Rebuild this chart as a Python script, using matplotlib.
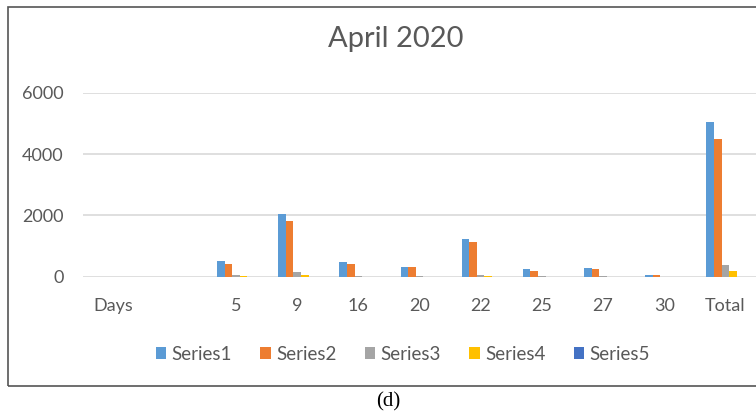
import matplotlib
matplotlib.use("Agg")
import matplotlib.pyplot as plt
import numpy as np
from matplotlib.patches import Rectangle

categories = ["Days", "", "5", "9", "16", "20", "22", "25", "27", "30", "Total"]
series_names = ["Series1", "Series2", "Series3", "Series4", "Series5"]
series1 = [0, 0, 520, 2030, 470, 320, 1230, 260, 300, 60, 5040]
series2 = [0, 0, 415, 1815, 425, 310, 1140, 195, 240, 60, 4475]
series3 = [0, 0, 50, 160, 20, 10, 50, 20, 20, 0, 380]
series4 = [0, 0, 10, 60, 0, 0, 10, 0, 0, 0, 185]
series5 = [0, 0, 0, 0, 0, 0, 0, 0, 0, 0, 0]
yticks = [0, 2000, 4000, 6000]
colors = ["#5B9BD5", "#ED7D31", "#A5A5A5", "#FFC000", "#4472C4"]

plt.rcParams['font.family'] = ['Lato', 'DejaVu Sans']
W, H = 756, 416
fig = plt.figure(figsize=(W / 100, H / 100), dpi=100)

left_px, right_px, top_px, bot_px = 83, 756, 92.7, 276.7
ax = fig.add_axes([left_px / W, 1 - bot_px / H, (right_px - left_px) / W, (bot_px - top_px) / H])

x = np.arange(len(categories))
w = 0.124
data = [series1, series2, series3, series4, series5]
for j, (vals, name, c) in enumerate(zip(data, series_names, colors)):
    ax.bar(x + (j - 2) * w, vals, width=w, color=c, label=name, zorder=3)

ax.set_xlim(-0.5, len(categories) - 0.5)
ax.set_ylim(0, 6000)
ax.set_yticks(yticks)
ax.set_yticklabels([str(v) for v in yticks])
ax.set_xticks(x)
ax.set_xticklabels(categories)
ax.grid(axis='y', color='#d9d9d9', linewidth=1.2, zorder=0)
for s in ax.spines.values():
    s.set_visible(False)
ax.tick_params(axis='both', length=0, colors='#595959', labelsize=13)
ax.tick_params(axis='y', pad=14)
ax.tick_params(axis='x', pad=15)

fig.text(396 / W, 1 - 39 / H, "April 2020", ha='center', va='center', fontsize=21, color='#595959')

handles, labels = ax.get_legend_handles_labels()
fig.legend(handles, labels, ncol=5, loc='center', bbox_to_anchor=(403 / W, 1 - 354 / H),
           frameon=False, fontsize=13.5, handlelength=0.55, handleheight=0.55, handletextpad=0.3,
           columnspacing=1.5, labelcolor='#595959')

fig.patches.append(Rectangle((8 / W, 1 - 386 / H), (770 - 8) / W, (386 - 7) / H,
                             transform=fig.transFigure, fill=False, edgecolor='#555555', linewidth=1.2))

fig.text(388 / W, 1 - 402 / H, "(d)", ha='center', va='center', fontsize=15,
         family=['Liberation Serif', 'DejaVu Serif'], color='black')

fig.savefig("out.png", dpi=100)
